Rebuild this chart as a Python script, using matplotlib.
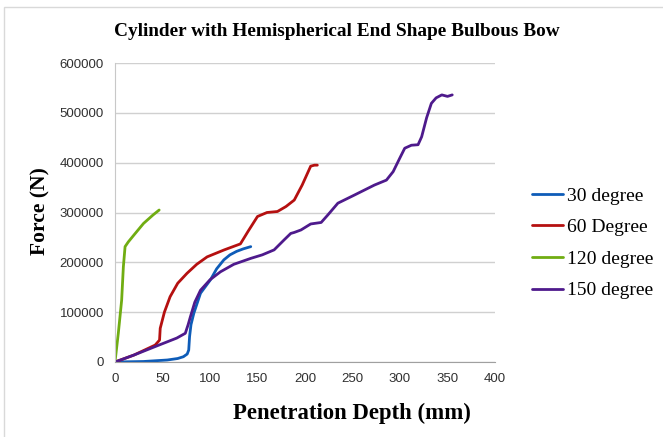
import matplotlib
matplotlib.use("Agg")
import matplotlib.pyplot as plt
from matplotlib.patches import Rectangle

# Data
x30 = [0, 30, 55, 66, 72, 76, 77.6, 78.5, 80, 83, 90, 100.5, 107, 114.6, 121, 128, 135, 142.9]
y30 = [0, 1000, 4000, 7000, 10600, 16000, 24000, 51000, 75000, 98000, 138000, 165000, 187000, 205000, 215000, 222000, 227000, 231500]

x60 = [0, 20, 42.3, 46.9, 47.6, 52, 58, 66, 75.8, 86, 97, 115, 132, 140, 150, 160, 171, 180, 188.7, 197, 206, 210, 213]
y60 = [0, 14000, 34000, 44000, 67600, 100000, 131000, 158000, 178000, 196000, 211000, 225000, 237000, 262000, 292000, 300000, 302000, 312000, 325000, 355000, 393000, 395000, 395000]

x120 = [0, 3.5, 7, 8.8, 10.6, 14, 20, 30, 40, 46.5]
y120 = [0, 58000, 124000, 191000, 231500, 241000, 255000, 278000, 295000, 305000]

x150 = [0, 20, 45, 65, 74, 77, 79.4, 84, 90, 100, 111, 125, 143, 155, 167.5, 178, 185, 188.7, 195.8, 206, 217, 224, 234.6, 252, 273, 285.7, 292.8, 300, 305, 312, 319, 322.8, 328, 333, 338, 344, 350, 355]
y150 = [0, 14000, 33000, 48000, 57600, 75000, 91000, 120000, 144000, 165000, 181000, 196000, 208000, 215000, 225000, 245000, 258000, 260000, 265000, 277000, 280000, 295000, 318700, 335000, 355000, 365000, 382000, 410000, 429000, 435000, 436000, 452000, 490000, 519000, 530000, 536000, 533000, 536000]

labels = ["30 degree", "60 Degree", "120 degree", "150 degree"]
colors = ["#0E5CB8", "#B51010", "#70AD12", "#4E1A8C"]

fig = plt.figure(figsize=(6.63, 4.37), dpi=100)
W, H = 663, 437
ax = fig.add_axes([115 / W, 1 - 362 / H, (495 - 115) / W, (362 - 63) / H])

series = [(x30, y30), (x60, y60), (x120, y120), (x150, y150)]
for (xs, ys), lab, c in zip(series, labels, colors):
    ax.plot(xs, ys, color=c, lw=2, label=lab, solid_joinstyle="round", solid_capstyle="round")

ax.set_xlim(0, 400)
ax.set_ylim(0, 600000)
ax.set_xticks(range(0, 401, 50))
ax.set_yticks(range(0, 600001, 100000))
ax.grid(axis="y", color="#D0D0D0", lw=1)
ax.set_axisbelow(True)
for s in ["top", "right"]:
    ax.spines[s].set_visible(False)
ax.spines["left"].set_color("#C8C8C8")
ax.spines["bottom"].set_color("#A0A0A0")
ax.tick_params(length=0, labelsize=9.5, labelcolor="#303030", pad=8)
for t in ax.get_xticklabels() + ax.get_yticklabels():
    t.set_family("Liberation Sans")

serif = "Liberation Serif"
fig.text(337 / W, 1 - 32 / H, "Cylinder with Hemispherical End Shape Bulbous Bow",
         ha="center", va="center", family=serif, weight="bold", fontsize=13.9)
fig.text(352 / W, 1 - 413 / H, "Penetration Depth (mm)", ha="center", va="center",
         family=serif, weight="bold", fontsize=16.4)
fig.text(40 / W, 1 - 211 / H, "Force (N)", ha="center", va="center", rotation=90,
         family=serif, weight="bold", fontsize=15.5)

leg = fig.legend(loc="upper left", bbox_to_anchor=(532 / W, 1 - 187 / H), frameon=False,
                 prop={"family": serif, "size": 14}, handlelength=1.6, handletextpad=0.2,
                 labelspacing=0.72, borderaxespad=0, borderpad=0)

fig.patches.append(Rectangle((4 / W, -0.1), 1.2, 1 - 7 / H + 0.1, transform=fig.transFigure,
                             fill=False, edgecolor="#D9D9D9", lw=1))

fig.savefig("out.png", dpi=100)
